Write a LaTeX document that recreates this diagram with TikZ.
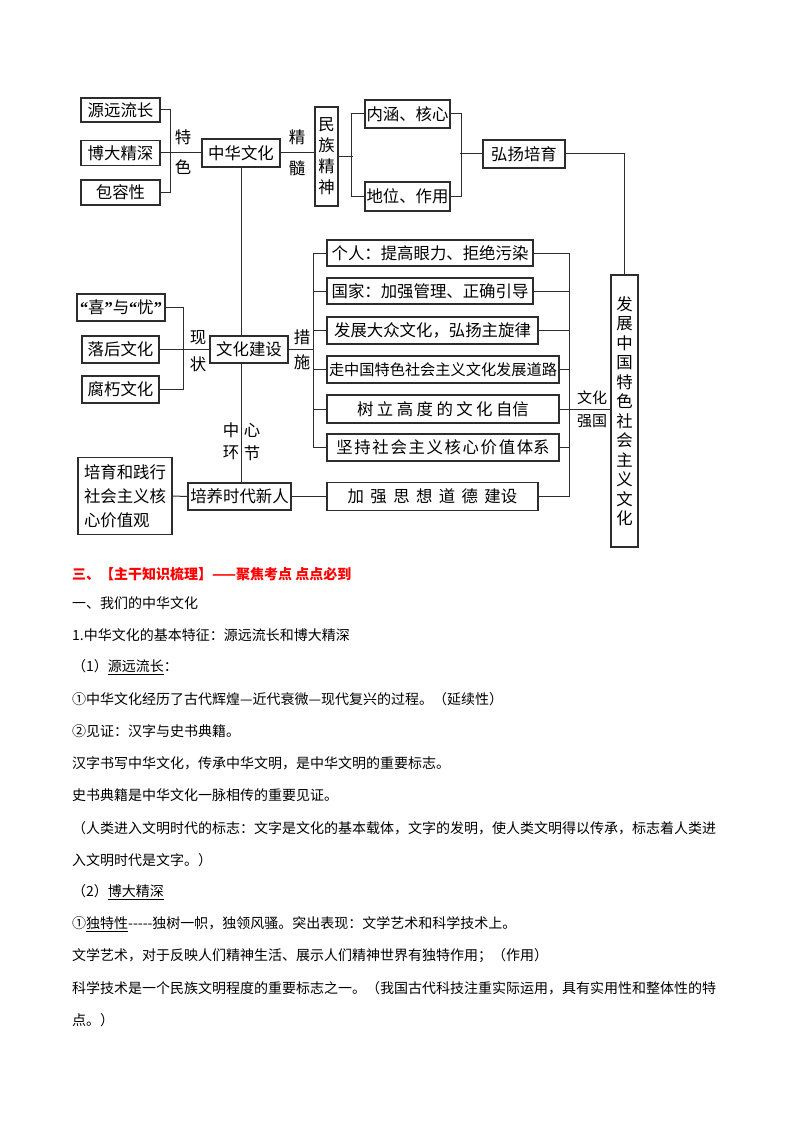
\documentclass[tikz,border=0pt]{standalone}
\usepackage{fontspec}
\setmainfont{Noto Sans CJK SC}
\newfontfamily\qf{Liberation Serif}
\usetikzlibrary{backgrounds}
\newcommand{\dfont}{\fontsize{16.4}{21}\selectfont}
\newcommand{\bfont}{\fontsize{14}{16}\selectfont}
\definecolor{ln}{RGB}{45,45,45}
\definecolor{headred}{RGB}{255,0,0}
\begin{document}
\begin{tikzpicture}[x=1pt,y=-1pt,
  box/.style={draw=ln, line width=1.2pt, fill=white, inner sep=0pt, font=\dfont, align=center},
  lab/.style={inner sep=0pt, font=\dfont, align=center},
  conn/.style={line width=1pt, draw=ln},
  body/.style={anchor=west, inner sep=0pt, font=\bfont}]
\useasboundingbox (0,0) rectangle (794,1123);

% ---- top part
\node[box, minimum width=79, minimum height=24] (y1) at (120.5,110) {源远流长};
\node[box, minimum width=79, minimum height=25] (y2) at (120.5,153) {博大精深};
\node[box, minimum width=79, minimum height=25] (y3) at (120.5,192.5) {包容性};
\node[lab, font=\fontsize{16.4}{30}\selectfont] (ts) at (183,152) {特\\色};
\node[box, minimum width=78, minimum height=28] (zh) at (241,153) {中华文化};
\node[lab, font=\fontsize{16.4}{31}\selectfont] (js) at (297,152.5) {精\\髓};
\node[box, minimum width=23, minimum height=99, font=\fontsize{16.4}{21}\selectfont] (mz) at (326.5,156.5) {民\\族\\精\\神};
\node[box, minimum width=85, minimum height=28] (nh) at (407.5,114) {内涵、核心};
\node[box, minimum width=85, minimum height=29] (dw) at (407.5,196.5) {地位、作用};
\node[box, minimum width=82, minimum height=28] (hy) at (524,154) {弘扬培育};

% ---- middle part
\node[box, minimum width=88, minimum height=27] (xy) at (121,307.5) {{\qf\bfseries “}喜{\qf\bfseries ”}与{\qf\bfseries “}忧{\qf\bfseries ”}};
\node[box, minimum width=77, minimum height=27] (lh) at (120.5,349.5) {落后文化};
\node[box, minimum width=77, minimum height=27] (fx) at (120.5,389.5) {腐朽文化};
\node[lab, font=\fontsize{16.4}{27}\selectfont] (xz) at (198,351.5) {现\\状};
\node[box, minimum width=78, minimum height=27] (whjs) at (249,349.5) {文化建设};
\node[lab, font=\fontsize{16.4}{25}\selectfont] (cs) at (302,349.5) {措\\施};

\node[box, minimum width=206, minimum height=26] (gr) at (430,253) {个人：提高眼力、拒绝污染};
\node[box, minimum width=206, minimum height=26] (gj) at (430,291) {国家：加强管理、正确引导};
\node[box, minimum width=211, minimum height=27] (fz) at (432.5,330.5) {发展大众文化，弘扬主旋律};
\node[box, minimum width=232, minimum height=27, font=\fontsize{15.2}{18}\selectfont] (zz) at (443,369.5) {走中国特色社会主义文化发展道路};
\node[box, minimum width=232, minimum height=28] (sl) at (443,409) {\addfontfeature{LetterSpace=21}树立高度的文化自\addfontfeature{LetterSpace=0}信};
\node[box, minimum width=232, minimum height=27] (jc) at (443,447.5) {\addfontfeature{LetterSpace=10}坚持社会主义核心价值体\addfontfeature{LetterSpace=0}系};
\node[box, minimum width=211, minimum height=28] (jq) at (432.5,496.5) {\addfontfeature{LetterSpace=39}加强思想道德建\addfontfeature{LetterSpace=0}设};
\node[lab, font=\fontsize{15}{23}\selectfont] (whqg) at (592,409.5) {文化\\强国};
\node[box, minimum width=27, minimum height=272, font=\fontsize{16.4}{19.5}\selectfont] (fzz) at (624.5,411) {发\\展\\中\\国\\特\\色\\社\\会\\主\\义\\文\\化};

% ---- bottom part
\node[lab] (zx1) at (231,430) {中};
\node[lab] (zx2) at (252,430) {心};
\node[lab] (zx3) at (231,453) {环};
\node[lab] (zx4) at (252,453) {节};
\node[box, minimum width=103, minimum height=27] (py) at (239.5,496.5) {培养时代新人};
\node[box, minimum width=94, minimum height=77, align=left, font=\fontsize{16.4}{24}\selectfont] (pj) at (125,496) {培育和践行\\社会主义核\\心价值观};

\coordinate (lb) at (314,349.5);
\coordinate (rbt) at (569,253);
\coordinate (rbb) at (569,496.5);

\begin{scope}[on background layer]
\draw[conn] (zh.south) -- (zh.south |- py.north);
\draw[conn] (y1.east) -- ++(10,0) |- (y3.east);
\draw[conn] (y2.east) -- (zh.west);
\draw[conn] (zh.east) -- (zh.east -| mz.west);
\draw[conn] (mz.east) -- ++(14,0);
\draw[conn] (nh.west) -- ++(-13,0) |- (dw.west);
\draw[conn] (nh.east) -- ++(11,0) |- (dw.east);
\draw[conn] (hy.west) -- ++(-22,0);
\draw[conn] (hy.east) -| (fzz.north);
\draw[conn] (xy.east) -- ++(18,0) |- (fx.east);
\draw[conn] (lh.east) -- (whjs.west);
\draw[conn] (whjs.east) -- (lb);
\draw[conn] (gr.west) -- ++(-13,0) |- (jc.west);
\draw[conn] (gj.west) -- ++(-13,0);
\draw[conn] (fz.west) -- ++(-13,0);
\draw[conn] (zz.west) -- ++(-13,0);
\draw[conn] (sl.west) -- ++(-13,0);
\draw[conn] (gr.east) -- (rbt) -- (rbb) -- (jq.east);
\draw[conn] (gj.east) -- (gj.east -| rbt);
\draw[conn] (fz.east) -- (fz.east -| rbt);
\draw[conn] (zz.east) -- (zz.east -| rbt);
\draw[conn] (jc.east) -- (jc.east -| rbt);
\draw[conn] (sl.east) -- (sl.east -| fzz.west);
\draw[conn] (pj.east) -- (py.west);
\draw[conn] (py.east) -- (jq.west);
\end{scope}

% ---- text below
\node[body, text=headred, font=\bfont\bfseries] (t0) at (72,574) {三、【主干知识梳理】——聚焦考点 点点必到};
\node[body] (t1) at (72,603) {一、我们的中华文化};
\node[body] (t2) at (72,635) {1.中华文化的基本特征：源远流长和博大精深};
\node[body] (t3) at (72,667) {（1）\underline{源远流长}：};
\node[body] (t4) at (72,699) {①中华文化经历了古代辉煌—近代衰微—现代复兴的过程。（延续性）};
\node[body] (t5) at (72,731) {②见证：汉字与史书典籍。};
\node[body] (t6) at (72,763) {汉字书写中华文化，传承中华文明，是中华文明的重要标志。};
\node[body] (t7) at (72,795) {史书典籍是中华文化一脉相传的重要见证。};
\node[body] (t8) at (72,828) {（人类进入文明时代的标志：文字是文化的基本载体，文字的发明，使人类文明得以传承，标志着人类进};
\node[body] (t9) at (72,860) {入文明时代是文字。）};
\node[body] (t10) at (72,892) {（2）\underline{博大精深}};
\node[body] (t11) at (72,924) {①\underline{独特性}-{}-{}-{}-{}-独树一帜，独领风骚。突出表现：文学艺术和科学技术上。};
\node[body] (t12) at (72,956) {文学艺术，对于反映人们精神生活、展示人们精神世界有独特作用；（作用）};
\node[body] (t13) at (72,988) {科学技术是一个民族文明程度的重要标志之一。（我国古代科技注重实际运用，具有实用性和整体性的特};
\node[body] (t14) at (72,1020) {点。）};
\end{tikzpicture}
\end{document}
